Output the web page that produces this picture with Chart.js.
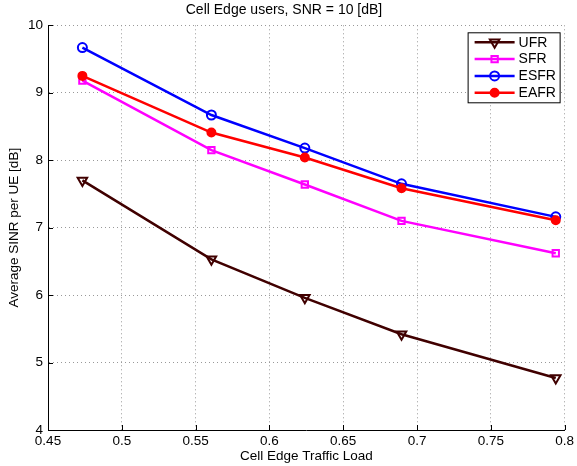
<!DOCTYPE html>
<html>
<head>
<meta charset="utf-8">
<script src="https://cdn.jsdelivr.net/npm/chart.js@4/dist/chart.umd.min.js"></script>
<style>
  html, body { margin: 0; padding: 0; background: #fff; }
  #c { display: block; }
</style>
</head>
<body>
<canvas id="c" width="577" height="466"></canvas>
<script>
// ---- data ----
const trafficLoad = [0.4733, 0.5607, 0.624, 0.6895, 0.794];
const ufr  = [7.70, 6.53, 5.96, 5.42, 4.77];
const sfr  = [9.18, 8.15, 7.64, 7.10, 6.62];
const esfr = [9.67, 8.67, 8.18, 7.65, 7.16];
const eafr = [9.25, 8.41, 8.04, 7.585, 7.11];
const seriesNames = ['UFR', 'SFR', 'ESFR', 'EAFR'];
const xTicks = [0.45, 0.5, 0.55, 0.6, 0.65, 0.7, 0.75, 0.8];
const yTicks = [4, 5, 6, 7, 8, 9, 10];

const FONT = '"Liberation Sans", Arial, Helvetica, sans-serif';
const pts = arr => arr.map((v, i) => ({ x: trafficLoad[i], y: v }));

const styles = [
  { color: '#400000', pointStyle: 'triangle', rotation: 180, radius: 5.5, fill: 'rgba(0,0,0,0)', order: 4 },
  { color: '#ff00ff', pointStyle: 'rect', rotation: 0, radius: 4.5, fill: 'rgba(0,0,0,0)', order: 3 },
  { color: '#0000ff', pointStyle: 'circle', rotation: 0, radius: 4.5, fill: 'rgba(0,0,0,0)', order: 2 },
  { color: '#ff0000', pointStyle: 'circle', rotation: 0, radius: 4, fill: '#ff0000', order: 1 }
];
const values = [ufr, sfr, esfr, eafr];

const datasets = seriesNames.map((name, i) => ({
  label: name,
  data: pts(values[i]),
  borderColor: styles[i].color,
  backgroundColor: styles[i].fill,
  borderWidth: 2.5,
  pointStyle: styles[i].pointStyle,
  pointRotation: styles[i].rotation,
  pointRadius: styles[i].radius,
  pointBorderWidth: 2,
  pointBorderColor: styles[i].color,
  pointBackgroundColor: styles[i].fill,
  tension: 0,
  fill: false,
  order: styles[i].order
}));

function drawMarker(ctx, st, x, y) {
  ctx.save();
  ctx.strokeStyle = st.color;
  ctx.fillStyle = st.fill;
  ctx.lineWidth = 2;
  const r = st.radius;
  ctx.beginPath();
  if (st.pointStyle === 'circle') {
    ctx.arc(x, y, r, 0, Math.PI * 2);
  } else if (st.pointStyle === 'rect') {
    const s = r / Math.SQRT2;
    ctx.rect(x - s, y - s, 2 * s, 2 * s);
  } else if (st.pointStyle === 'triangle') {
    const w = r * Math.sqrt(3) / 2;
    ctx.moveTo(x - w, y - r * 0.5);
    ctx.lineTo(x + w, y - r * 0.5);
    ctx.lineTo(x, y + r);
    ctx.closePath();
  }
  ctx.fill();
  ctx.stroke();
  ctx.restore();
}

const extras = {
  id: 'extras',
  afterDraw(chart) {
    const ctx = chart.ctx;
    const a = chart.chartArea;
    const xs = chart.scales.x, ys = chart.scales.y;
    // inward tick marks
    ctx.save();
    ctx.strokeStyle = '#000';
    ctx.lineWidth = 1;
    ctx.beginPath();
    xs.ticks.forEach(t => {
      const px = Math.round(xs.getPixelForValue(t.value)) + 0.5;
      ctx.moveTo(px, a.bottom);
      ctx.lineTo(px, a.bottom - 5);
    });
    ys.ticks.forEach(t => {
      const py = Math.round(ys.getPixelForValue(t.value)) + 0.5;
      ctx.moveTo(a.left, py);
      ctx.lineTo(a.left + 5, py);
    });
    ctx.stroke();
    ctx.restore();

    // legend box (MATLAB style)
    const bw = 92, bh = 70;
    const bx = a.right - 97, by = a.top + 7;
    ctx.save();
    ctx.fillStyle = '#fff';
    ctx.fillRect(bx, by, bw, bh);
    ctx.strokeStyle = '#000';
    ctx.lineWidth = 1;
    ctx.strokeRect(bx + 0.5, by + 0.5, bw, bh);
    ctx.font = '14px ' + FONT;
    ctx.textBaseline = 'middle';
    ctx.textAlign = 'left';
    chart.data.datasets.forEach((ds, i) => {
      const y = by + 10 + i * 16.8;
      const st = styles[i];
      ctx.strokeStyle = st.color;
      ctx.lineWidth = 2.5;
      ctx.beginPath();
      ctx.moveTo(bx + 7, y);
      ctx.lineTo(bx + 47, y);
      ctx.stroke();
      drawMarker(ctx, st, bx + 27, y);
      ctx.fillStyle = '#000';
      ctx.fillText(ds.label, bx + 51, y + 0.5);
    });
    ctx.restore();
  }
};

new Chart(document.getElementById('c'), {
  type: 'line',
  data: { datasets },
  plugins: [extras],
  options: {
    responsive: false,
    animation: false,
    events: [],
    layout: { padding: { left: 0, right: 9, top: 0, bottom: 0 } },
    plugins: {
      legend: { display: false },
      tooltip: { enabled: false },
      title: {
        display: true,
        text: 'Cell Edge users, SNR = 10 [dB]',
        color: '#000',
        font: { family: FONT, size: 14, weight: 'normal' },
        padding: { top: 2, bottom: 6.5 }
      }
    },
    scales: {
      x: {
        type: 'linear',
        min: 0.45,
        max: 0.8,
        afterBuildTicks: s => { s.ticks = xTicks.map(v => ({ value: v })); },
        afterFit: s => { s.height = 36; },
        ticks: {
          color: '#000',
          font: { family: FONT, size: 13.5 },
          padding: 3,
          maxRotation: 0,
          autoSkip: false,
          callback: v => String(v)
        },
        grid: { color: '#999999', lineWidth: 1, drawTicks: false },
        border: { display: true, color: '#000', width: 1, dash: [1, 3] },
        title: {
          display: true,
          text: 'Cell Edge Traffic Load',
          color: '#000',
          font: { family: FONT, size: 13.5 },
          padding: { top: 0, bottom: 1.5 }
        }
      },
      y: {
        type: 'linear',
        min: 4,
        max: 10,
        afterBuildTicks: s => { s.ticks = yTicks.map(v => ({ value: v })); },
        afterFit: s => { s.width = 48; },
        ticks: {
          color: '#000',
          font: { family: FONT, size: 13.5 },
          padding: 5,
          autoSkip: false,
          callback: v => String(v)
        },
        grid: { color: '#999999', lineWidth: 1, drawTicks: false },
        border: { display: true, color: '#000', width: 1, dash: [1, 3] },
        title: {
          display: true,
          text: 'Average SINR per UE [dB]',
          color: '#000',
          font: { family: FONT, size: 13.5 },
          padding: { top: 6, bottom: 0 }
        }
      }
    }
  }
});
</script>
</body>
</html>
